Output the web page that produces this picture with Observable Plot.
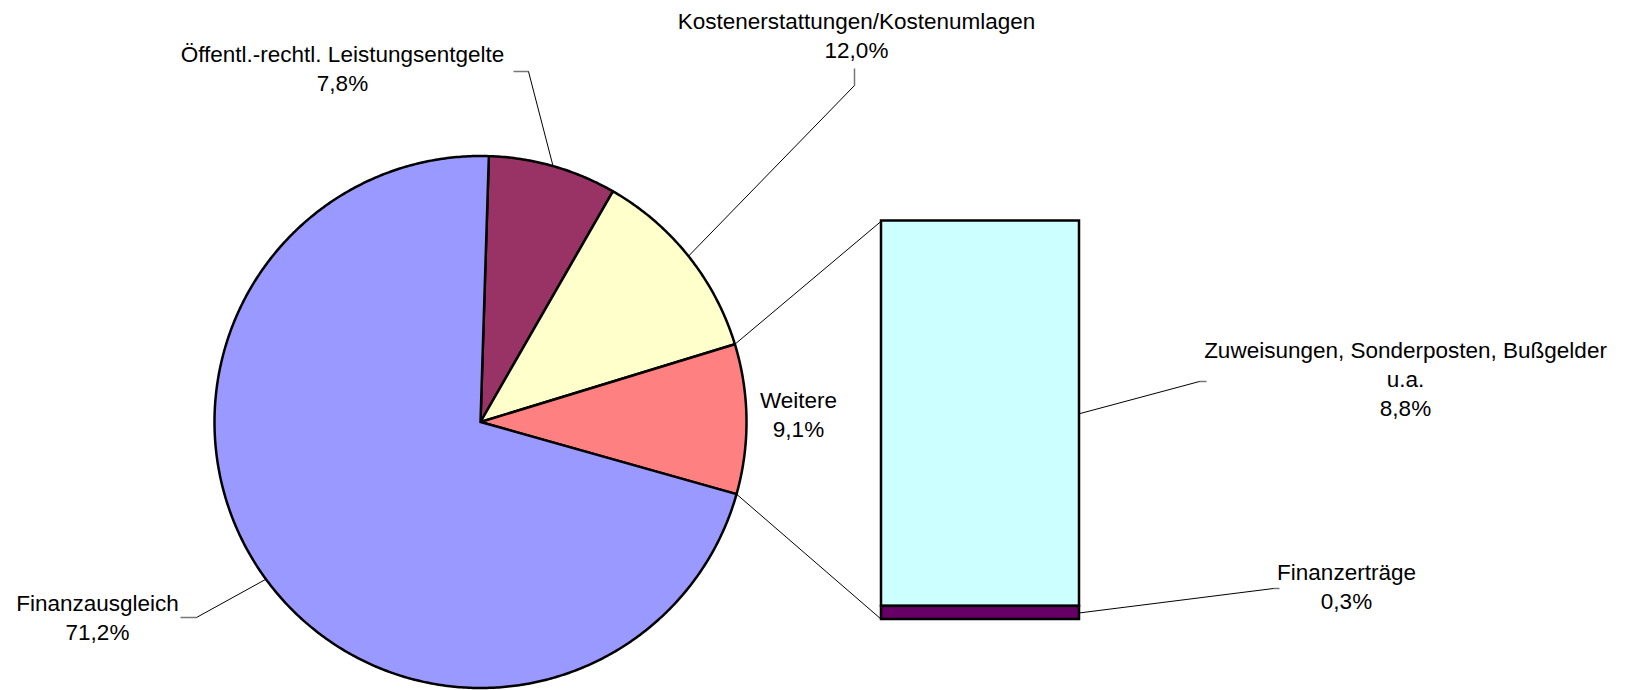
<!DOCTYPE html>
<html>
<head>
<meta charset="utf-8">
<script src="https://cdn.jsdelivr.net/npm/d3@7"></script>
<script src="https://cdn.jsdelivr.net/npm/@observablehq/plot@0.6"></script>
<style>
  html, body { margin: 0; padding: 0; background: #fff; }
  #chart svg { display: block; }
</style>
</head>
<body>
<div id="chart"></div>
<script>
// ---- data ----
const pieNames  = ["Öffentl.-rechtl. Leistungsentgelte", "Kostenerstattungen/Kostenumlagen", "Weitere", "Finanzausgleich"];
const pieValues = [7.8, 12.0, 9.1, 71.2];
const pieColors = ["#993366", "#FFFFCC", "#FF8080", "#9999FF"];

const barNames  = ["Zuweisungen, Sonderposten, Bußgelder\nu.a.", "Finanzerträge"];
const barValues = [8.8, 0.3];
const barColors = ["#CCFFFF", "#660066"];

// ---- layout ----
const W = 1636, H = 690;
const cx = 480, cy = 421.5, R = 266;
const startAngle = 1.8;           // degrees clockwise from 12 o'clock
const barX1 = 881, barX2 = 1079, barTop = 220.5, barBottom = 619;

// label layout: text centre, leader elbow, stub end
const pieLabelLayout = [
  {x: 342, y: 67,    elbow: [528, 71],  stub: [513, 71]},
  {x: 856, y: 33.5,  elbow: [854, 85],  stub: [854, 68]},
  {x: 798, y: 412.5, elbow: null,       stub: null},
  {x: 97,  y: 615.5, elbow: [196, 617], stub: [180, 617]}
];
const barLabelLayout = [
  {x: 1405, y: 377,  elbow: [1199, 381], stub: [1206, 381]},
  {x: 1346, y: 585,  elbow: [1273, 588], stub: [1279, 588]}
];

const fmt = v => d3.format(".1f")(v).replace(".", ",") + "%";
const rad = a => a * Math.PI / 180;
const pt = (a, r) => [cx + r * Math.sin(rad(a)), cy - r * Math.cos(rad(a))];

// ---- pie slices ----
const pieTotal = d3.sum(pieValues);
let acc = startAngle;
const slices = pieValues.map((v, i) => {
  const a0 = acc, a1 = acc + v / pieTotal * 360;
  acc = a1;
  return {name: pieNames[i], value: v, a0, a1, mid: (a0 + a1) / 2};
});
const slicePts = [];
slices.forEach(s => {
  slicePts.push({name: s.name, x: cx, y: cy});
  const n = Math.max(2, Math.ceil((s.a1 - s.a0) / 0.5));
  for (let k = 0; k <= n; k++) {
    const [x, y] = pt(s.a0 + (s.a1 - s.a0) * k / n, R);
    slicePts.push({name: s.name, x, y});
  }
  slicePts.push({name: s.name, x: cx, y: cy});
});

// ---- bar segments ----
const barTotal = d3.sum(barValues);
const barY = c => barTop + c / barTotal * (barBottom - barTop);
let bacc = 0;
const segs = barValues.map((v, i) => {
  const s = {name: barNames[i], value: v, y1: barY(bacc), y2: barY(bacc + v), x1: barX1, x2: barX2};
  bacc += v;
  return s;
});

// ---- leaders ----
const leaders = [];
const stubs = [];
slices.forEach((s, i) => {
  const L = pieLabelLayout[i];
  if (!L.elbow) return;
  const [ex, ey] = pt(s.mid, R);
  leaders.push({id: s.name, x: ex, y: ey}, {id: s.name, x: L.elbow[0], y: L.elbow[1]});
  stubs.push({id: s.name, x: L.elbow[0], y: L.elbow[1]}, {id: s.name, x: L.stub[0], y: L.stub[1]});
});
segs.forEach((s, i) => {
  const L = barLabelLayout[i];
  leaders.push({id: s.name, x: barX2, y: (s.y1 + s.y2) / 2}, {id: s.name, x: L.elbow[0], y: L.elbow[1]});
  stubs.push({id: s.name, x: L.elbow[0], y: L.elbow[1]}, {id: s.name, x: L.stub[0], y: L.stub[1]});
});
// connectors from the "Weitere" slice to the bar
const weitere = slices[2];
const [t0x, t0y] = pt(weitere.a0, R);
const [t1x, t1y] = pt(weitere.a1, R);
const connectors = [
  {id: "top", x: t0x, y: t0y}, {id: "top", x: barX1, y: barTop},
  {id: "bot", x: t1x, y: t1y}, {id: "bot", x: barX1, y: barBottom}
];

const labels = [
  ...slices.map((s, i) => ({text: s.name + "\n" + fmt(s.value), x: pieLabelLayout[i].x, y: pieLabelLayout[i].y})),
  ...segs.map((s, i) => ({text: s.name + "\n" + fmt(s.value), x: barLabelLayout[i].x, y: barLabelLayout[i].y}))
];

const chart = Plot.plot({
  width: W, height: H,
  margin: 0,
  x: {domain: [0, W], range: [0, W], axis: null},
  y: {domain: [0, H], range: [0, H], axis: null},
  color: {domain: [...pieNames, ...barNames], range: [...pieColors, ...barColors]},
  style: {background: "#fff", fontFamily: "'Liberation Sans', Arial, sans-serif"},
  marks: [
    Plot.line(connectors, {x: "x", y: "y", z: "id", stroke: "#000", strokeWidth: 1}),
    Plot.line(leaders, {x: "x", y: "y", z: "id", stroke: "#000", strokeWidth: 1}),
    Plot.line(stubs, {x: "x", y: "y", z: "id", stroke: "#777", strokeWidth: 1.5, strokeLinecap: "butt"}),
    Plot.line(slicePts, {x: "x", y: "y", z: "name", fill: "name", stroke: "#000", strokeWidth: 2.5, curve: "linear", strokeLinejoin: "round"}),
    Plot.rect(segs, {x1: "x1", x2: "x2", y1: "y1", y2: "y2", fill: "name", stroke: "#000", strokeWidth: 2.5}),
    Plot.text(labels, {x: "x", y: "y", text: "text", fontSize: 22.5, lineHeight: 1.3, lineAnchor: "middle", textAnchor: "middle", fill: "#000"})
  ]
});
document.getElementById("chart").appendChild(chart);
</script>
</body>
</html>
